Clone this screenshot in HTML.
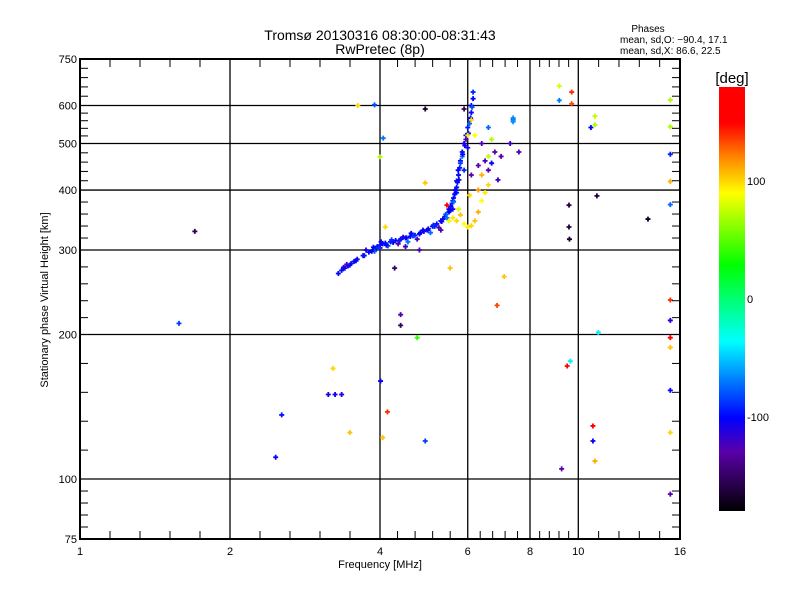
<!DOCTYPE html>
<html><head><meta charset="utf-8"><style>
body{margin:0;background:#fff;}
svg{display:block;font-family:"Liberation Sans",sans-serif;}
</style></head><body>
<svg id="chart" width="800" height="600" viewBox="0 0 800 600" xmlns="http://www.w3.org/2000/svg">
<defs>
<linearGradient id="cb" x1="0" y1="0" x2="0" y2="1">
<stop offset="0" stop-color="#ff0000"/><stop offset="0.085" stop-color="#ff0000"/>
<stop offset="0.17" stop-color="#ff8c00"/><stop offset="0.25" stop-color="#ffff00"/>
<stop offset="0.42" stop-color="#00ff00"/><stop offset="0.6" stop-color="#00ffff"/>
<stop offset="0.78" stop-color="#0000ff"/><stop offset="0.86" stop-color="#5a00aa"/>
<stop offset="1" stop-color="#000000"/>
</linearGradient>
</defs>
<text x="380" y="40" font-size="14" text-anchor="middle">Tromsø 20130316 08:30:00-08:31:43</text>
<text x="380" y="54" font-size="14" text-anchor="middle">RwPretec (8p)</text>
<text x="648" y="32" font-size="10" text-anchor="middle">Phases</text>
<text x="620" y="43" font-size="10">mean, sd,O: −90.4, 17.1</text>
<text x="620" y="54" font-size="10">mean, sd,X:  86.6, 22.5</text>
<g id="grid"></g>
<g id="points"></g>
<rect x="80" y="59" width="600" height="480" fill="none" stroke="#000" stroke-width="2"/>
<g id="axes"></g>
<text x="380" y="568" font-size="11" text-anchor="middle">Frequency [MHz]</text>
<text x="48" y="300" font-size="11" text-anchor="middle" transform="rotate(-90 48 300)">Stationary phase Virtual Height [km]</text>
<rect x="719" y="87" width="26" height="424" fill="url(#cb)"/>
<text x="732" y="83" font-size="15" text-anchor="middle">[deg]</text>
<g id="cbticks"></g>
</svg>
<script>
const xTicks=[1,2,4,6,8,10,16];
const yTicks=[75,100,200,300,400,500,600,750];
const cbTicks=[100,0,-100];
const freq=[3.3,3.35,3.4,3.45,3.5,3.55,3.6,3.7,3.8,3.9,3.95,4.0,4.05,4.1,4.2,4.3,4.4,4.5,4.6,4.7,4.8,4.9,5.0,5.1,5.2,5.3,5.4,5.5,5.55,5.6,5.65,5.7,5.72,5.75,5.78,5.8,5.85,5.9,5.95,6.0,6.05,6.1,6.1,6.15,6.15,
3.9,4.0,4.15,4.35,4.55,4.75,5.05,5.25,5.45,5.6,5.7,5.85,5.95,6.05,
3.38,3.48,3.58,3.72,3.85,3.98,4.12,4.25,4.38,4.52,4.66,4.82,4.98,5.15,5.32,5.42,5.5,5.58,5.62,5.66,5.7,5.74,5.8,5.86,5.92,6.02,6.08,6.12,
3.75,3.88,4.02,4.22,4.45,4.62,4.88,5.12,5.35,5.52,5.62,5.68,5.76,5.9,6.0,
5.6,5.7,5.8,5.9,6.0,6.1,6.2,6.3,6.4,6.5,6.6,5.75,6.05,6.4,6.6,6.7,6.2,6.1,6.0,6.3,5.5,5.45,
6.3,6.5,6.8,7.3,7.6,6.6,6.4,6.9,5.3,4.8,4.5,6.1,6.6,7.4,7.0,6.7,5.9,
3.61,4.06,1.70,1.58,3.22,3.15,3.25,3.35,2.54,2.47,3.48,4.01,4.14,4.05,4.4,4.4,4.75,4.93,4.93,5.53,6.87,7.1,7.4,7.4,9.16,9.7,9.16,9.7,9.58,9.58,9.6,9.64,9.5,9.26,10.7,10.7,10.8,10.9,10.8,10.8,10.6,10.97,13.8,15.3,15.3,15.3,15.3,15.3,15.3,15.3,15.3,15.3,15.3,15.3,15.3,3.43,3.38,4.28,3.9,4.0,4.93,4.1];
const height=[268,272,275,278,281,284,287,292,297,302,305,307,309,310,312,314,316,318,320,322,324,328,332,336,340,345,352,360,370,380,392,405,415,430,445,460,480,500,520,540,560,580,600,620,640,
298,303,306,309,312,316,326,334,350,365,395,470,510,550,
276,279,285,292,298,303,307,311,314,318,321,326,330,336,344,356,365,375,385,400,418,440,455,475,495,525,565,595,
300,304,312,315,319,325,330,338,348,362,378,395,420,440,490,
350,345,355,340,335,337,345,360,380,395,410,365,390,430,470,510,520,560,520,400,345,372,
450,460,480,500,480,440,500,420,330,300,305,430,540,560,470,455,590,
600,513,328,211,170,150,150,150,136,111,125,160,138,122,220,209,197,120,590,275,230,264,565,555,659,640,615,605,372,335,316,176,172,105,129,120,109,389,547,570,540,202,348,616,542,475,417,373,236,214,197,188,153,125,93,280,275,275,602,469,414,335];
const phase=[-100,-98,-102,-100,-96,-100,-98,-102,-100,-96,-100,-98,-102,-100,-96,-100,-98,-102,-100,-96,-100,-98,-102,-100,-96,-100,-98,-102,-100,-96,-100,-98,-102,-100,-96,-100,-98,-102,-100,-96,-100,-98,-102,-100,-90,
-75,-120,-80,-130,-70,-120,-75,-130,-70,-115,-80,-70,-125,-75,
-95,-100,-105,-95,-100,-88,-100,-105,-95,-100,-85,-100,-105,-95,-100,-80,-105,-95,-100,-105,-95,-100,-85,-100,-105,-95,-100,-80,
-110,-100,-105,-90,-110,-100,-105,-90,-110,-100,-75,-100,-105,-90,-110,
95,100,105,90,95,100,105,110,90,95,100,80,100,110,75,70,90,100,95,115,85,150,
-130,-125,-130,-120,-125,-130,-125,-120,-130,-125,-120,-130,-75,-75,-130,-100,-150,
100,-70,-155,-85,100,-110,-105,-110,-95,-100,105,-105,140,105,-130,-150,40,-85,-165,105,135,105,-65,-65,80,140,-70,135,-160,-160,-165,-40,170,-130,150,-100,110,-160,70,75,-100,-40,-170,70,70,-95,110,-75,140,-110,175,105,-100,100,-130,-125,-110,-150,-80,70,105,100];
const X=f=>80+600*Math.log(f)/Math.log(16);
const Y=h=>539-480*Math.log10(h/75);
const NS="http://www.w3.org/2000/svg";
function mk(tag,attrs,parent){const e=document.createElementNS(NS,tag);for(const k in attrs)e.setAttribute(k,attrs[k]);parent.appendChild(e);return e;}
const stops=[[0,[255,0,0]],[0.085,[255,0,0]],[0.17,[255,140,0]],[0.25,[255,255,0]],[0.42,[0,255,0]],[0.6,[0,255,255]],[0.78,[0,0,255]],[0.86,[90,0,170]],[1,[0,0,0]]];
function col(v){const t=Math.min(1,Math.max(0,(180-v)/360));for(let i=1;i<stops.length;i++){if(t<=stops[i][0]){const a=stops[i-1],b=stops[i];const u=(t-a[0])/(b[0]-a[0]||1);const c=a[1].map((x,j)=>Math.round(x+(b[1][j]-x)*u));return `rgb(${c})`;}}return "#000";}
const grid=document.getElementById('grid'),axes=document.getElementById('axes');
xTicks.forEach((t,i)=>{const x=X(t);
 if(i>0&&i<xTicks.length-1){const l=mk('line',{x1:x,x2:x,y1:59,y2:539,stroke:'#000','stroke-width':1.3},grid);
 
 }
 const tx=mk('text',{x:x,y:555,'font-size':11,'text-anchor':'middle'},axes);tx.textContent=t;
 
 
 if(i<xTicks.length-1){const x2=X(xTicks[i+1]);for(let k=1;k<5;k++){const xm=x+(x2-x)*k/5;
  const a=mk('line',{x1:xm,x2:xm,y1:539,y2:531,stroke:'#000','stroke-width':1},axes);
  
  
  const b=mk('line',{x1:xm,x2:xm,y1:59,y2:67,stroke:'#000','stroke-width':1},axes);
  
  }}});
yTicks.forEach((t,i)=>{const y=Y(t);
 if(i>0&&i<yTicks.length-1){const l=mk('line',{x1:80,x2:680,y1:y,y2:y,stroke:'#000','stroke-width':1.3},grid);
 
 }
 const tx=mk('text',{x:77,y:y+4,'font-size':11,'text-anchor':'end'},axes);tx.textContent=t;
 
 
 if(i<yTicks.length-1){const y2=Y(yTicks[i+1]);for(let k=1;k<5;k++){const ym=y+(y2-y)*k/5;
  const a=mk('line',{x1:80,x2:88,y1:ym,y2:ym,stroke:'#000','stroke-width':1},axes);
  
  
  const b=mk('line',{x1:672,x2:680,y1:ym,y2:ym,stroke:'#000','stroke-width':1},axes);
  
  }}});
const pts=document.getElementById('points');
for(let i=0;i<freq.length;i++){const x=X(freq[i]),y=Y(height[i]);
 const p=mk('path',{d:`M${x-2.5} ${y}h5M${x} ${y-2.5}v5`,stroke:col(phase[i]),'stroke-width':1.8,fill:'none'},pts);
 
 }
const cbt=document.getElementById('cbticks');
cbTicks.forEach(v=>{const y=87+424*(180-v)/360;
 const t=mk('text',{x:747,y:y+4,'font-size':11},cbt);t.textContent=v;
 
 });
</script>
</body></html>
